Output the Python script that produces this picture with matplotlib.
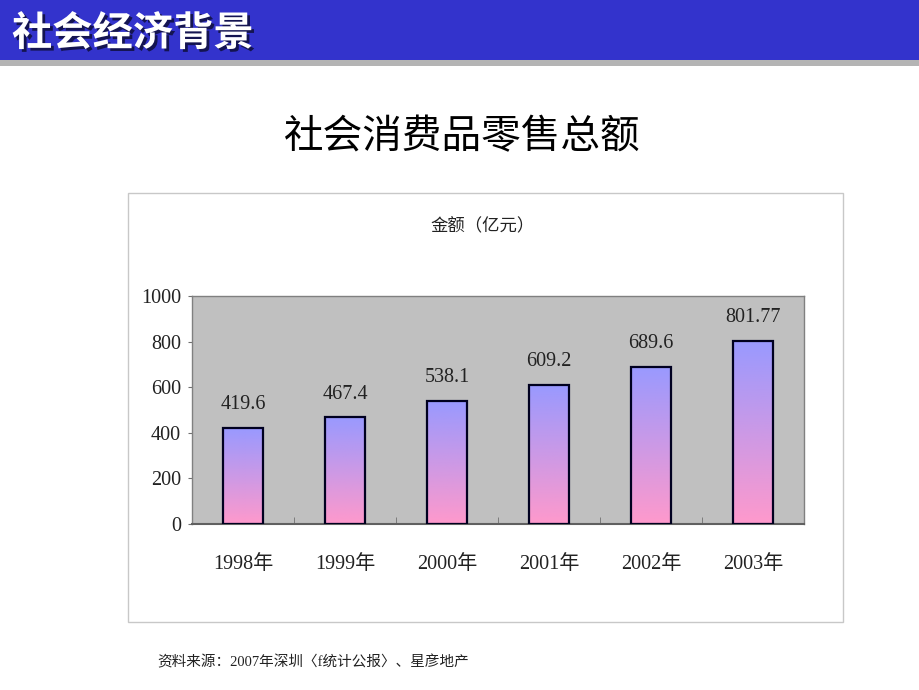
import matplotlib
matplotlib.use("Agg")
import matplotlib.pyplot as plt
import numpy as np
from matplotlib.patches import Rectangle
from matplotlib.colors import LinearSegmentedColormap
import matplotlib.patheffects as pe

header_title = "社会经济背景"
chart_title = "社会消费品零售总额"
inner_title = "金额（亿元）"
source_note = "资料来源：2007年深圳〈f统计公报〉、星彦地产"
categories = ["1998年", "1999年", "2000年", "2001年", "2002年", "2003年"]
values = [419.6, 467.4, 538.1, 609.2, 689.6, 801.77]
value_labels = ["419.6", "467.4", "538.1", "609.2", "689.6", "801.77"]
yticks = [0, 200, 400, 600, 800, 1000]

W, H = 920, 690
fig = plt.figure(figsize=(W / 100, H / 100), dpi=100)
fig.patch.set_facecolor("white")

def fx(px):
    return px / W

def fy(py):
    return 1 - py / H

cjk = ["Noto Sans CJK SC", "DejaVu Sans"]
num = ["Liberation Serif", "Noto Sans CJK SC"]

# header band
fig.patches.append(Rectangle((0, fy(60)), 1, fy(0) - fy(60), transform=fig.transFigure,
                             facecolor="#3333cc", edgecolor="none", zorder=-1))
fig.patches.append(Rectangle((0, fy(66)), 1, fy(60) - fy(66), transform=fig.transFigure,
                             facecolor="#b4b4b4", edgecolor="none", zorder=-1))
fig.text(fx(12), fy(34), header_title, color="white", fontsize=29, fontweight="bold",
         family=cjk, ha="left", va="center",
         path_effects=[pe.withSimplePatchShadow(offset=(2, -2), shadow_rgbFace="#111144", alpha=0.9)])

# chart title
fig.text(fx(462), fy(137), chart_title, color="black", fontsize=28.5, family=cjk,
         fontweight="light", ha="center", va="center")

# chart border box
fig.patches.append(Rectangle((fx(128), fy(622)), fx(843) - fx(128), fy(193) - fy(622),
                             transform=fig.transFigure, facecolor="none",
                             edgecolor="#c8c8c8", linewidth=1, zorder=-1))
fig.text(fx(483), fy(226), inner_title, color="#222222", fontsize=12.5, family=cjk,
         ha="center", va="center")

# source note
fig.text(fx(157), fy(662), source_note, color="#222222", fontsize=10.5, family=num,
         ha="left", va="center")

ax = fig.add_axes([fx(192), fy(524), fx(804) - fx(192), fy(296) - fy(524)])
ax.set_facecolor("#c0c0c0")
x = np.arange(len(categories))
bars = ax.bar(x, values, width=0.4, facecolor="none", edgecolor="#000020", linewidth=1.6, zorder=3)

cmap = LinearSegmentedColormap.from_list("g", ["#ff99cc", "#cc99e6", "#9999ff"])
grad = np.linspace(0, 1, 256).reshape(-1, 1)
for b in bars:
    x0, w, h = b.get_x(), b.get_width(), b.get_height()
    im = ax.imshow(grad, cmap=cmap, origin="lower", aspect="auto",
                   extent=(x0, x0 + w, 0, h), zorder=2)
    im.set_clip_path(b)

for xi, v, lab in zip(x, values, value_labels):
    ax.annotate(lab, (xi, v), xytext=(0, 10), textcoords="offset points",
                ha="center", va="bottom", fontsize=14.5, family=num, color="#222222")

ax.set_xlim(-0.5, len(categories) - 0.5)
ax.set_ylim(0, 1000)
ax.set_yticks(yticks)
ax.set_yticklabels([str(t) for t in yticks], fontsize=14.5, family=num, color="#222222")
ax.set_xticks(x)
ax.set_xticklabels(categories, fontsize=14.5, family=num, color="#222222")
ax.tick_params(axis="x", length=0, pad=22)
ax.set_xticks(np.arange(len(categories) + 1) - 0.5, minor=True)
ax.tick_params(axis="x", which="minor", direction="in", length=5, color="#707070")
ax.tick_params(axis="y", direction="out", length=3, color="#707070", pad=5)
for s in ax.spines.values():
    s.set_color("#808080")
    s.set_linewidth(1)
ax.spines["bottom"].set_color("#606060")
ax.spines["bottom"].set_linewidth(1.5)

fig.savefig("out.png", dpi=100)
